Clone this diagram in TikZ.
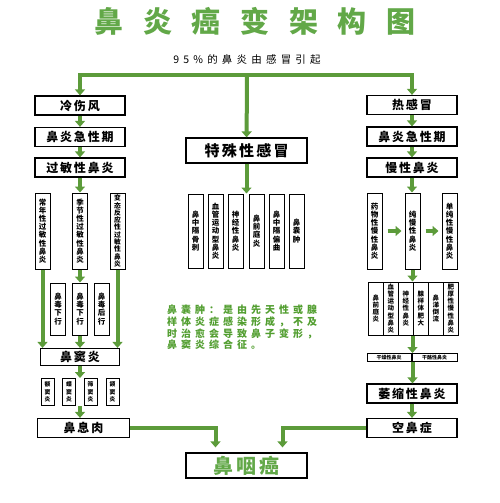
\documentclass[tikz,border=0pt]{standalone}
\usepackage{fontspec}
\setmainfont{Noto Sans CJK SC}
\newfontfamily\titlefont{Noto Sans CJK SC}[LetterSpace=68]
\newfontfamily\boxfont{Noto Sans CJK SC}[LetterSpace=15]
\newfontfamily\notefont{Noto Sans CJK SC}[LetterSpace=40]
\usepackage{tikz}
\usetikzlibrary{arrows.meta, positioning}
\definecolor{arrowgreen}{RGB}{92,155,58}
\definecolor{titlegreen}{RGB}{98,168,72}
\definecolor{notegreen}{RGB}{82,158,48}
\tikzset{flow/.style     = {line width=4pt, draw=arrowgreen, -{Triangle[width=10pt,length=6pt]}}}
\tikzset{box/.style      = {draw, line width=1.2pt, fill=white, minimum width=90pt, minimum height=19pt, inner sep=0pt,
                            font=\boxfont\bfseries\fontsize{12}{12}\selectfont}}
\tikzset{tallbox/.style  = {draw, line width=1pt, fill=white, minimum width=15pt, inner sep=0pt, align=center,
                            font=\bfseries\fontsize{7.5}{8.2}\selectfont}}
\tikzset{tinybox/.style  = {draw, line width=1pt, fill=white, minimum width=13pt, minimum height=27pt, inner sep=0pt, align=center,
                            font=\bfseries\fontsize{5.8}{7.5}\selectfont}}

\begin{document}
\begin{tikzpicture}[x=1pt, y=-1pt]
    \useasboundingbox (0,0) rectangle (500,503);
    % heading and the common cause
    \node (title) at (255,21) [text=titlegreen, font=\titlefont\bfseries\fontsize{29}{29}\selectfont] {鼻炎癌变架构图};
    \node (cause) at (247,60) [font=\notefont\fontsize{10.5}{10.5}\selectfont] {95\%的鼻炎由感冒引起};
    \coordinate (split) at (247,75);
    % left branch: cold wind
    \node (cold)      at (80,105.5)  [box] {冷伤风};
    \node (lacute)    at (80,137)    [box] {鼻炎急性期};
    \node (allergy)   at (80,167.5)  [box] {过敏性鼻炎};
    \node (perennial) at (42.5,231)  [tallbox, minimum height=76pt] {常\\年\\性\\过\\敏\\性\\鼻\\炎};
    \node (seasonal)  at (80,231)    [tallbox, minimum height=76pt] {季\\节\\性\\过\\敏\\性\\鼻\\炎};
    \node (atopic)    at (117.5,231) [tallbox, minimum height=76pt, font=\bfseries\fontsize{6.8}{7.3}\selectfont] {变\\态\\反\\应\\性\\过\\敏\\性\\鼻\\炎};
    \node (drip1)     at (58,309)    [tallbox, minimum height=52pt] {鼻\\毒\\下\\行};
    \node (drip2)     at (80,309)    [tallbox, minimum height=52pt] {鼻\\毒\\下\\行};
    \node (drip3)     at (101.5,309) [tallbox, minimum height=52pt] {鼻\\毒\\后\\行};
    \node (sinus)     at (80,357)    [box, minimum width=79pt, minimum height=17pt] {鼻窦炎};
    \node (s1)        at (47.5,392)  [tinybox] {额\\窦\\炎};
    \node (s2)        at (69,392)    [tinybox] {蝶\\窦\\炎};
    \node (s3)        at (90.5,392)  [tinybox] {筛\\窦\\炎};
    \node (s4)        at (112.5,392) [tinybox] {颌\\窦\\炎};
    \node (polyp)     at (83.5,428)  [box, minimum width=92pt] {鼻息肉};
    % middle branch: special cold
    \node (special)   at (246.5,150.5) [box, minimum width=121pt, minimum height=25pt, font=\boxfont\bfseries\fontsize{15}{15}\selectfont] {特殊性感冒};
    \node (c1)        at (195.5,231) [tallbox, minimum height=74pt] {鼻\\中\\隔\\骨\\刺};
    \node (c2)        at (215.5,231) [tallbox, minimum height=74pt] {血\\管\\运\\动\\型\\鼻\\炎};
    \node (c3)        at (235.5,231) [tallbox, minimum height=74pt] {神\\经\\性\\鼻\\炎};
    \node (c4)        at (256.5,231) [tallbox, minimum height=74pt] {鼻\\前\\庭\\炎};
    \node (c5)        at (276.5,231) [tallbox, minimum height=74pt] {鼻\\中\\隔\\偏\\曲};
    \node (c6)        at (296.5,231) [tallbox, minimum height=74pt] {鼻\\囊\\肿};
    \node (note)      at (167,305)   [anchor=north west, inner sep=0pt, align=left, text=notegreen,
                                      font=\notefont\bfseries\fontsize{10}{11.7}\selectfont]
                      {鼻囊肿：是由先天性或腺\\样体炎症感染形成，不及\\时治愈会导致鼻子变形，\\鼻窦炎综合征。};
    \node (cancer)    at (246.5,465.5) [box, minimum width=121pt, minimum height=25pt, text=titlegreen,
                                        font=\boxfont\bfseries\fontsize{20}{20}\selectfont] {鼻咽癌};
    % right branch: heat cold
    \node (hot)       at (412,105)   [box] {热感冒};
    \node (racute)    at (412,136.5) [box] {鼻炎急性期};
    \node (chronic)   at (412,167.5) [box] {慢性鼻炎};
    \node (drug)      at (374.5,231) [tallbox, minimum height=76pt] {药\\物\\性\\慢\\性\\鼻\\炎};
    \node (pure)      at (412.5,231) [tallbox, minimum height=76pt] {纯\\慢\\性\\鼻\\炎};
    \node (simple)    at (449.5,231) [tallbox, minimum height=76pt] {单\\纯\\性\\慢\\性\\鼻\\炎};
    \node (r1)        at (375.8,308.5) [tallbox, minimum height=53pt, font=\bfseries\fontsize{6.5}{7.2}\selectfont] {鼻\\前\\庭\\炎};
    \node (r2)        at (390.8,308.5) [tallbox, minimum height=53pt, font=\bfseries\fontsize{6.5}{7.2}\selectfont] {血\\管\\运\\动\\型\\鼻\\炎};
    \node (r3)        at (405.8,308.5) [tallbox, minimum height=53pt, font=\bfseries\fontsize{6.5}{7.2}\selectfont] {神\\经\\性\\鼻\\炎};
    \node (r4)        at (420.8,308.5) [tallbox, minimum height=53pt, font=\bfseries\fontsize{6.5}{7.2}\selectfont] {腺\\样\\体\\肥\\大};
    \node (r5)        at (435.8,308.5) [tallbox, minimum height=53pt, font=\bfseries\fontsize{6.5}{7.2}\selectfont] {鼻\\涕\\倒\\流};
    \node (r6)        at (450.8,308.5) [tallbox, minimum height=53pt, font=\bfseries\fontsize{6.5}{7.2}\selectfont] {肥\\厚\\性\\慢\\性\\鼻\\炎};
    \node (dry)       at (389,357.5)   [box, line width=1pt, minimum width=44pt, minimum height=8pt, font=\bfseries\fontsize{5}{5}\selectfont] {干燥性鼻炎};
    \node (caseous)   at (434.5,357.5) [box, line width=1pt, minimum width=45pt, minimum height=8pt, font=\bfseries\fontsize{5}{5}\selectfont] {干酪性鼻炎};
    \node (atrophic)  at (412,393.5)   [box] {萎缩性鼻炎};
    \node (empty)     at (412,428)     [box] {空鼻症};

    % top split
    \draw [flow] (split) -| (cold.north);
    \draw [flow] (split) -| (hot.north);
    \draw [flow] (split) -- (special);
    % left chain
    \draw [flow] (cold)     -- (lacute);
    \draw [flow] (lacute)   -- (allergy);
    \draw [flow] (allergy)  -- (seasonal);
    \draw [flow] (seasonal) -- (drip2);
    \draw [flow] (drip2)    -- (sinus);
    \draw [flow] (perennial) -- (perennial |- sinus.north);
    \draw [flow] (atopic)    -- (atopic |- sinus.north);
    \draw [flow] (sinus.south) -- (sinus.south |- s1.north);
    \draw [flow] (sinus.south |- s1.south) -- (sinus.south |- polyp.north);
    % middle
    \draw [flow] (special.south) -- (special.south |- c1.north);
    % right chain
    \draw [flow] (hot)     -- (racute);
    \draw [flow] (racute)  -- (chronic);
    \draw [flow] (chronic) -- (chronic.south |- pure.north);
    \draw [flow, shorten <=5pt, shorten >=3pt] (drug) -- (pure);
    \draw [flow, shorten <=5pt, shorten >=3pt] (pure) -- (simple);
    \draw [flow] (pure.south) -- (pure.south |- r3.north);
    \draw [flow] (pure.south |- r3.south) -- (pure.south |- dry.north);
    \draw [flow] (pure.south |- dry.south) -- (pure.south |- atrophic.north);
    \draw [flow] (atrophic) -- (empty);
    % into cancer
    \draw [flow, shorten >=5pt] (polyp.east) -| ([xshift=-31pt]cancer.north);
    \draw [flow, shorten >=5pt] (empty.west) -| ([xshift=36pt]cancer.north);
\end{tikzpicture}
\end{document}
